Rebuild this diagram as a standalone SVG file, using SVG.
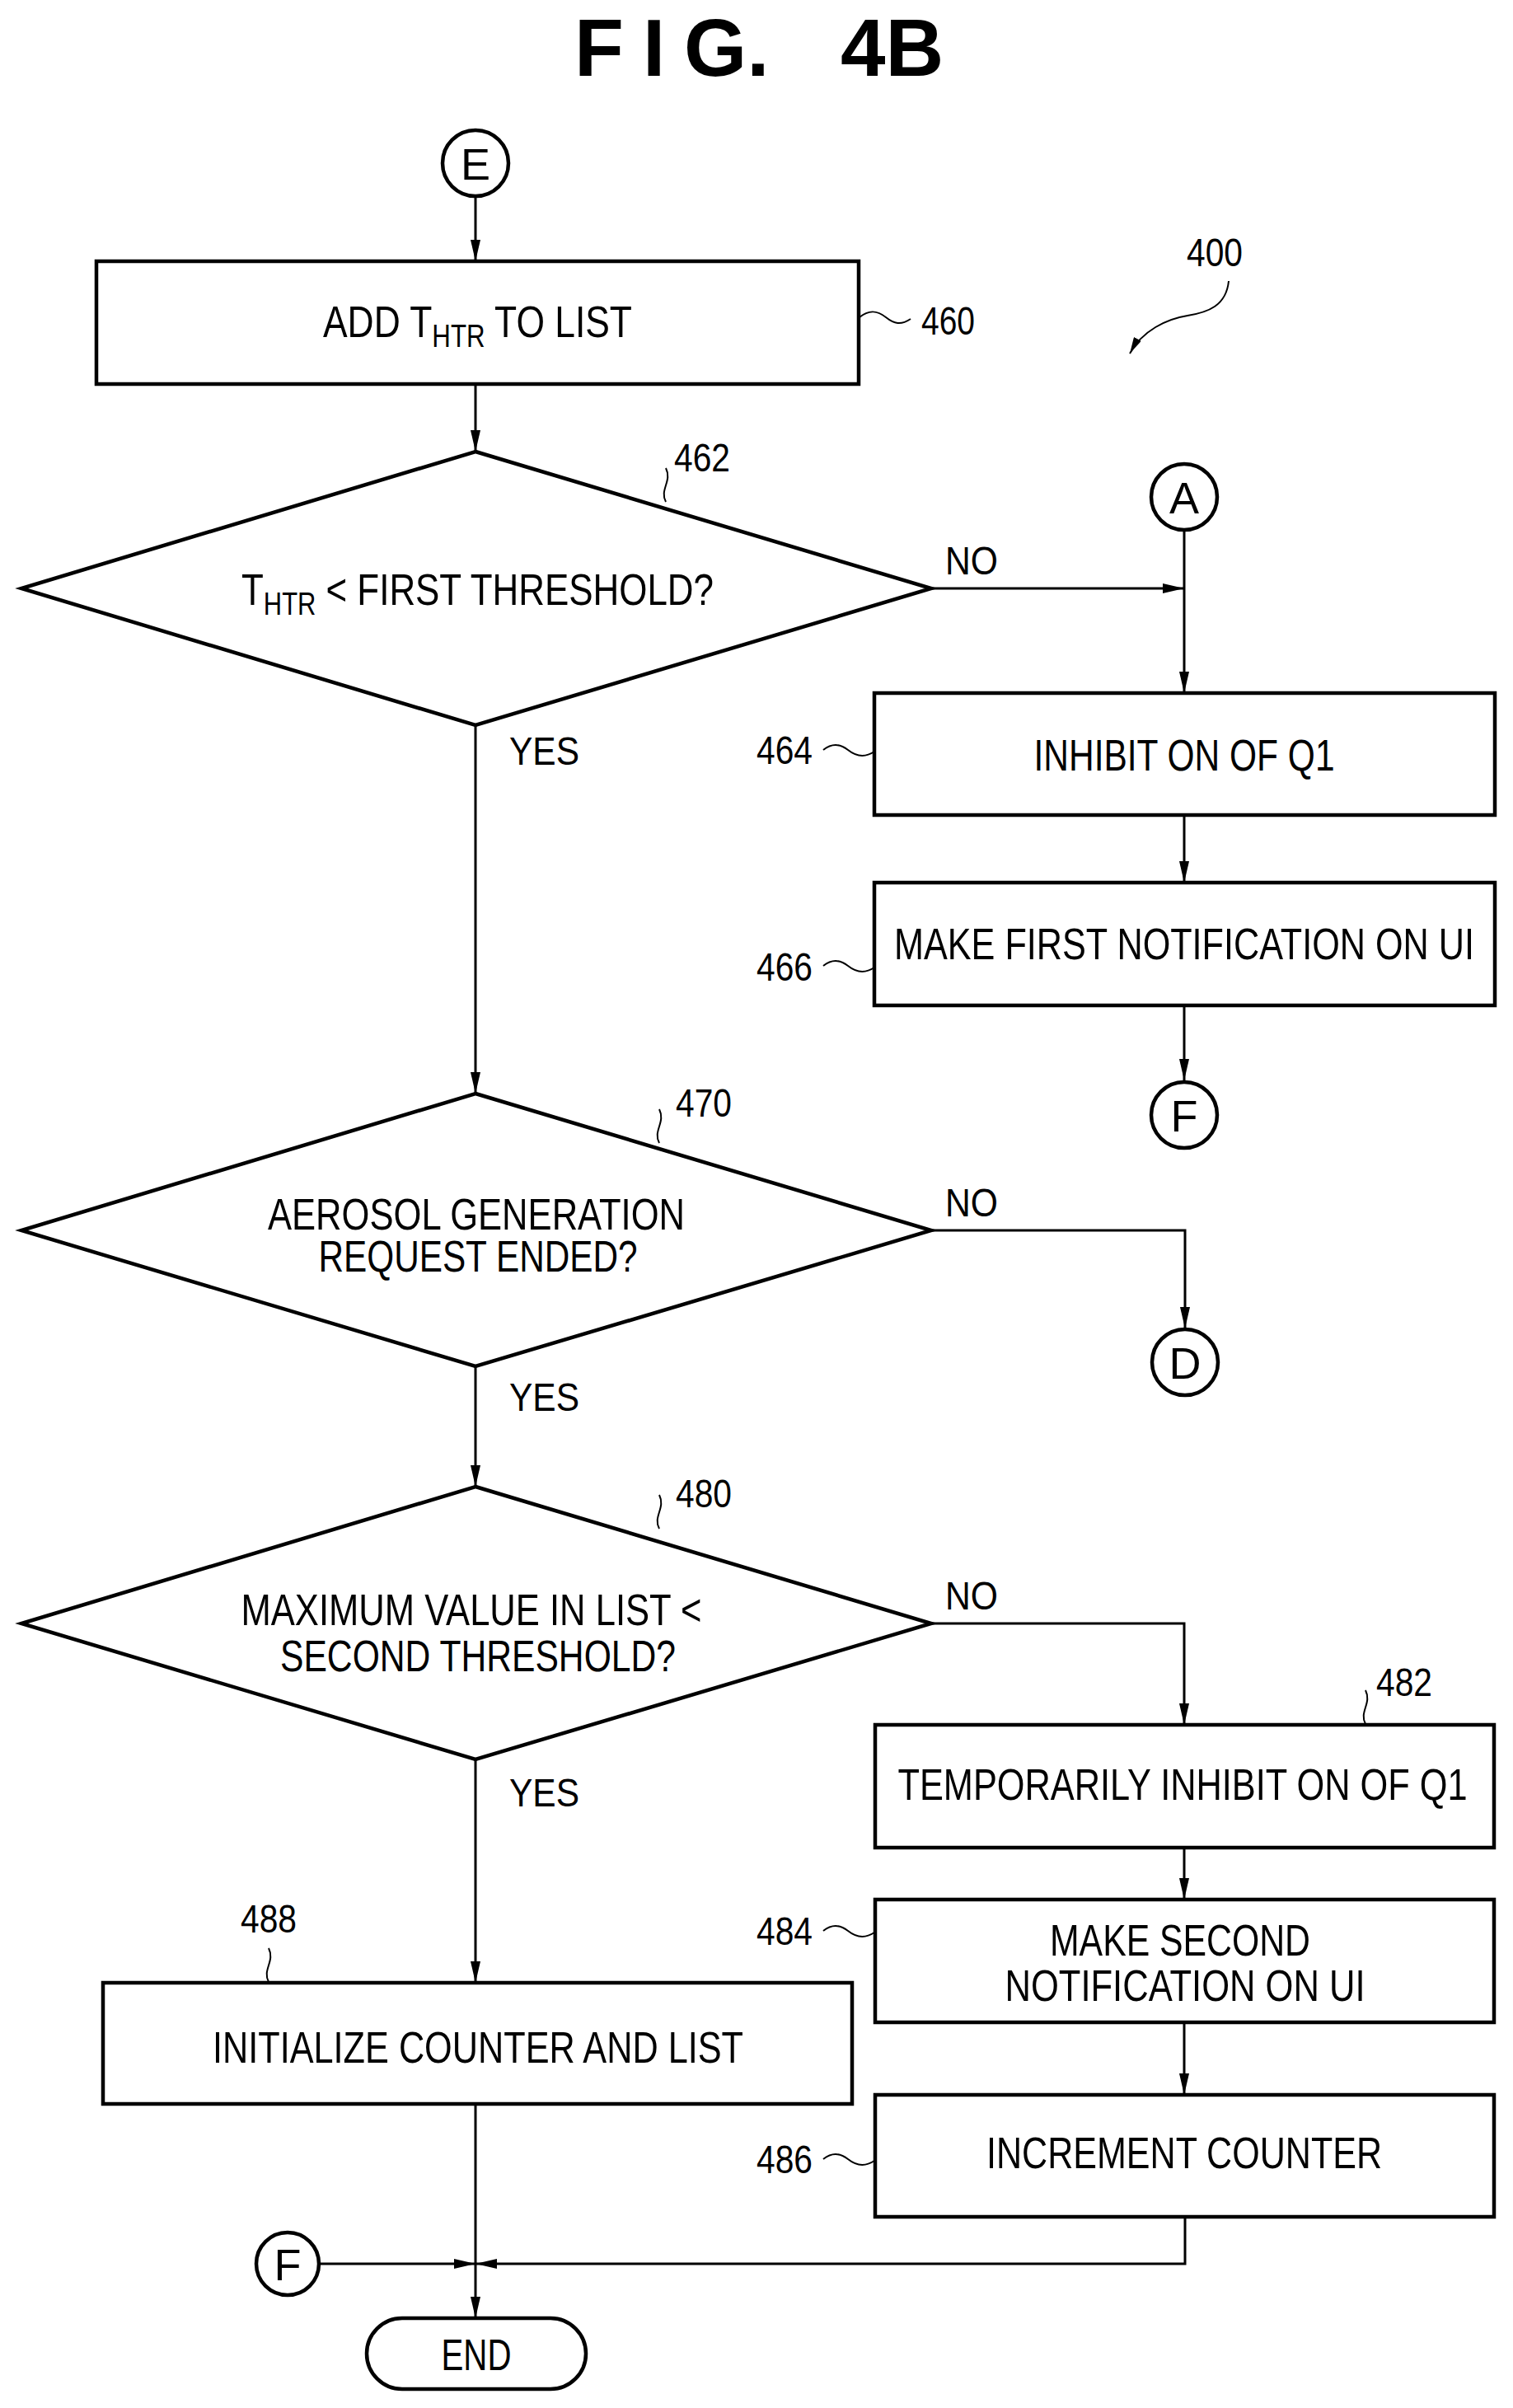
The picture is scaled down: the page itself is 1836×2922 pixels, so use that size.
<svg xmlns="http://www.w3.org/2000/svg" width="1836" height="2922" viewBox="0 0 1836 2922">
<style>
.b{fill:#fff;stroke:#000;stroke-width:4.5}
.c{fill:none;stroke:#000;stroke-width:3}
.s{fill:none;stroke:#000;stroke-width:2}
.t{font-family:"Liberation Sans",Arial,sans-serif;font-size:54px;fill:#000}
.m{text-anchor:middle}
.l{font-family:"Liberation Sans",Arial,sans-serif;font-size:48px;fill:#000}
.h{font-family:"Liberation Sans",Arial,sans-serif;font-size:98px;font-weight:bold;fill:#000}
</style>
<defs>
<marker id="ah" viewBox="0 0 20 10" refX="20" refY="5" markerWidth="20" markerHeight="10" markerUnits="userSpaceOnUse" orient="auto"><path d="M0 0L20 5L0 10z" fill="#000"/></marker>
<marker id="ah2" viewBox="0 0 26 12" refX="26" refY="6" markerWidth="26" markerHeight="12" markerUnits="userSpaceOnUse" orient="auto"><path d="M0 0L26 6L0 12z" fill="#000"/></marker>
</defs>
<rect width="1836" height="2922" fill="#fff"/>
<g id="title">
<text class="h" x="697" y="92">F</text>
<text class="h" x="780" y="92">I</text>
<text class="h" x="830" y="92">G.</text>
<text class="h" x="1020" y="92">4B</text>
</g>

<g id="connectors">
<path class="c" d="M577 239V317" marker-end="url(#ah2)"/>
<path class="c" d="M577 466V548" marker-end="url(#ah2)"/>
<path class="c" d="M1130 714H1437" marker-end="url(#ah2)"/>
<path class="c" d="M1437 643V841" marker-end="url(#ah2)"/>
<path class="c" d="M1437 989V1071" marker-end="url(#ah2)"/>
<path class="c" d="M1437 1220V1311" marker-end="url(#ah2)"/>
<path class="c" d="M577 880V1327" marker-end="url(#ah2)"/>
<path class="c" d="M1130 1493H1438V1612" marker-end="url(#ah2)"/>
<path class="c" d="M577 1658V1804" marker-end="url(#ah2)"/>
<path class="c" d="M1130 1970H1437V2093" marker-end="url(#ah2)"/>
<path class="c" d="M1437 2242V2305" marker-end="url(#ah2)"/>
<path class="c" d="M1437 2454V2542" marker-end="url(#ah2)"/>
<path class="c" d="M577 2135V2406" marker-end="url(#ah2)"/>
<path class="c" d="M577 2553V2813" marker-end="url(#ah2)"/>
<path class="c" d="M387 2747H577" marker-end="url(#ah2)"/>
<path class="c" d="M1438 2690V2747H577" marker-end="url(#ah2)"/>
<path class="s" d="M1491 341c-3 30-25 38-50 42s-55 18-70 46" marker-end="url(#ah)"/>
<path class="s" d="M1043 385c12-10 22-8 32 0s18 10 30 2"/>
<path class="s" d="M808 609c-8-15 8-25 0-41"/>
<path class="s" d="M1061 912c-12 8-22 6-32-2s-20-8-30 0"/>
<path class="s" d="M1061 1174c-12 8-22 6-32-2s-20-8-30 0"/>
<path class="s" d="M800 1387c-8-15 8-25 0-41"/>
<path class="s" d="M800 1855c-8-15 8-25 0-41"/>
<path class="s" d="M1657 2092c-8-15 8-25 0-41"/>
<path class="s" d="M1061 2345c-12 8-22 6-32-2s-20-8-30 0"/>
<path class="s" d="M1061 2622c-12 8-22 6-32-2s-20-8-30 0"/>
<path class="s" d="M326 2405c-8-15 8-25 0-41"/>
</g>

<g id="E"><circle class="b" cx="577" cy="198" r="40"/><text class="t m" x="577" y="218">E</text></g>
<g id="n460"><rect class="b" x="117" y="317" width="925" height="149"/>
<text class="t" x="392" y="409" textLength="375" lengthAdjust="spacingAndGlyphs">ADD T<tspan font-size="38" dy="12">HTR</tspan><tspan dy="-12"> TO LIST</tspan></text>
<text class="l" x="1118" y="406" textLength="65" lengthAdjust="spacingAndGlyphs">460</text></g>
<g id="ref400"><text class="l" x="1440" y="323" textLength="68" lengthAdjust="spacingAndGlyphs">400</text></g>
<g id="n462"><path class="b" d="M577 548L1130 714L577 880L26 714Z"/>
<text class="t" x="293" y="734" textLength="573" lengthAdjust="spacingAndGlyphs">T<tspan font-size="38" dy="12">HTR</tspan><tspan dy="-12"> &lt; FIRST THRESHOLD?</tspan></text>
<text class="l" x="818" y="572" textLength="68" lengthAdjust="spacingAndGlyphs">462</text>
<text class="l" x="1147" y="697" textLength="64" lengthAdjust="spacingAndGlyphs">NO</text>
<text class="l" x="618" y="928" textLength="85" lengthAdjust="spacingAndGlyphs">YES</text></g>
<g id="A"><circle class="b" cx="1437" cy="603" r="40"/><text class="t m" x="1437" y="623">A</text></g>
<g id="n464"><rect class="b" x="1061" y="841" width="753" height="148"/>
<text class="t m" x="1437" y="935" textLength="365" lengthAdjust="spacingAndGlyphs">INHIBIT ON OF Q1</text>
<text class="l" x="918" y="927" textLength="68" lengthAdjust="spacingAndGlyphs">464</text></g>
<g id="n466"><rect class="b" x="1061" y="1071" width="753" height="149"/>
<text class="t m" x="1437" y="1164" textLength="704" lengthAdjust="spacingAndGlyphs">MAKE FIRST NOTIFICATION ON UI</text>
<text class="l" x="918" y="1190" textLength="68" lengthAdjust="spacingAndGlyphs">466</text></g>
<g id="F1"><circle class="b" cx="1437" cy="1353" r="40"/><text class="t m" x="1437" y="1373">F</text></g>
<g id="n470"><path class="b" d="M577 1327L1130 1493L577 1658L26 1493Z"/>
<text class="t m" x="578" y="1492" textLength="506" lengthAdjust="spacingAndGlyphs">AEROSOL GENERATION</text>
<text class="t m" x="580" y="1543" textLength="387" lengthAdjust="spacingAndGlyphs">REQUEST ENDED?</text>
<text class="l" x="820" y="1355" textLength="68" lengthAdjust="spacingAndGlyphs">470</text>
<text class="l" x="1147" y="1476" textLength="64" lengthAdjust="spacingAndGlyphs">NO</text>
<text class="l" x="618" y="1712" textLength="85" lengthAdjust="spacingAndGlyphs">YES</text></g>
<g id="D"><circle class="b" cx="1438" cy="1653" r="40"/><text class="t m" x="1438" y="1673">D</text></g>
<g id="n480"><path class="b" d="M577 1804L1130 1970L577 2135L26 1970Z"/>
<text class="t m" x="572" y="1972" textLength="559" lengthAdjust="spacingAndGlyphs">MAXIMUM VALUE IN LIST &lt;</text>
<text class="t m" x="580" y="2028" textLength="480" lengthAdjust="spacingAndGlyphs">SECOND THRESHOLD?</text>
<text class="l" x="820" y="1829" textLength="68" lengthAdjust="spacingAndGlyphs">480</text>
<text class="l" x="1147" y="1953" textLength="64" lengthAdjust="spacingAndGlyphs">NO</text>
<text class="l" x="618" y="2192" textLength="85" lengthAdjust="spacingAndGlyphs">YES</text></g>
<g id="n482"><rect class="b" x="1062" y="2093" width="751" height="149"/>
<text class="t m" x="1435" y="2184" textLength="691" lengthAdjust="spacingAndGlyphs">TEMPORARILY INHIBIT ON OF Q1</text>
<text class="l" x="1670" y="2058" textLength="68" lengthAdjust="spacingAndGlyphs">482</text></g>
<g id="n484"><rect class="b" x="1062" y="2305" width="751" height="149"/>
<text class="t m" x="1432" y="2373" textLength="316" lengthAdjust="spacingAndGlyphs">MAKE SECOND</text>
<text class="t m" x="1438" y="2428" textLength="437" lengthAdjust="spacingAndGlyphs">NOTIFICATION ON UI</text>
<text class="l" x="918" y="2360" textLength="68" lengthAdjust="spacingAndGlyphs">484</text></g>
<g id="n486"><rect class="b" x="1062" y="2542" width="751" height="148"/>
<text class="t m" x="1437" y="2631" textLength="480" lengthAdjust="spacingAndGlyphs">INCREMENT COUNTER</text>
<text class="l" x="918" y="2637" textLength="68" lengthAdjust="spacingAndGlyphs">486</text></g>
<g id="n488"><rect class="b" x="125" y="2406" width="909" height="147"/>
<text class="t m" x="580" y="2503" textLength="644" lengthAdjust="spacingAndGlyphs">INITIALIZE COUNTER AND LIST</text>
<text class="l" x="292" y="2345" textLength="68" lengthAdjust="spacingAndGlyphs">488</text></g>
<g id="F2"><circle class="b" cx="349" cy="2747" r="38"/><text class="t m" x="349" y="2767">F</text></g>
<g id="END"><rect class="b" x="445" y="2813" width="266" height="86" rx="43"/>
<text class="t m" x="578" y="2876" textLength="85" lengthAdjust="spacingAndGlyphs">END</text></g>
</svg>
